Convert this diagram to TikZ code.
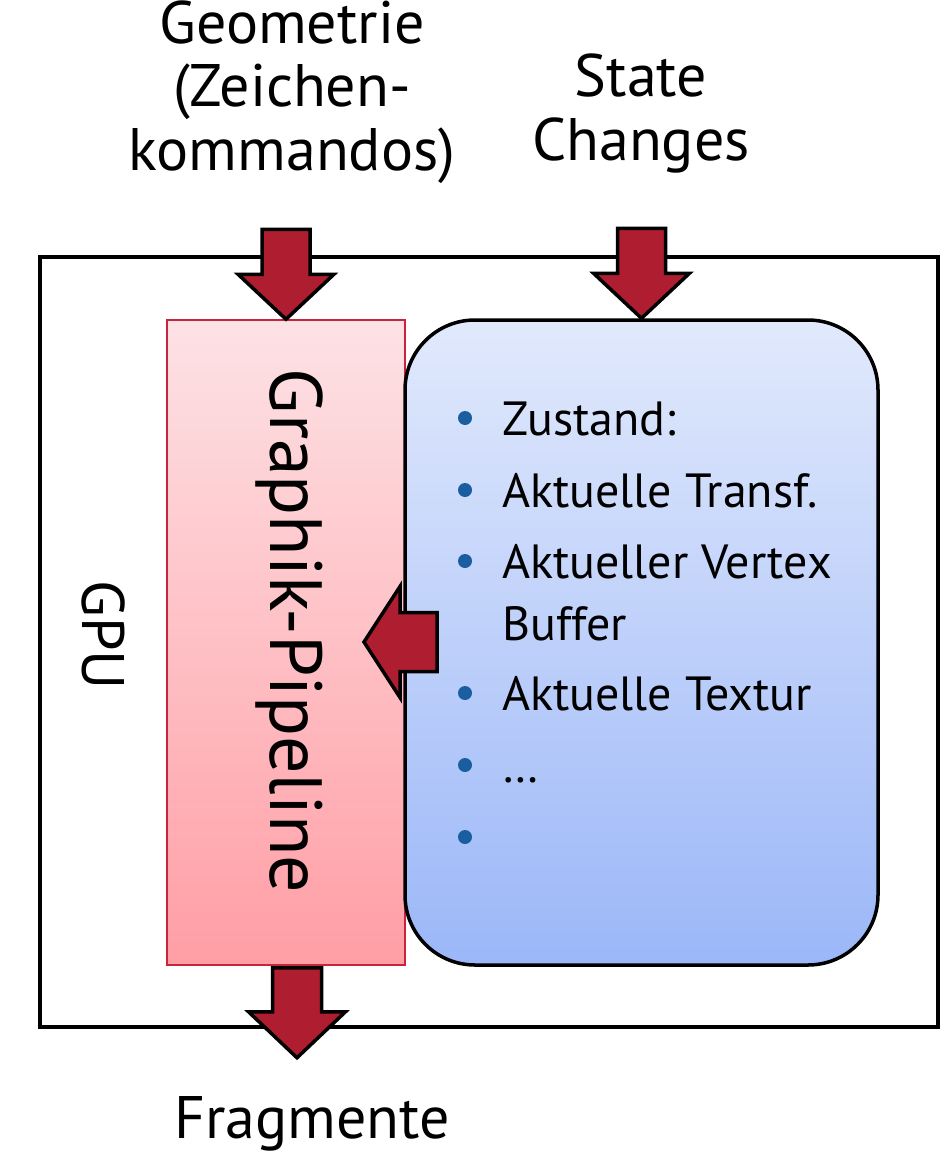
\documentclass[tikz,border=0pt]{standalone}
\usepackage{fontspec}
\setmainfont{PT Sans}
\usetikzlibrary{
  calc
}
\definecolor{arrowRed}{RGB}{174,30,48}
\definecolor{pipeLine}{RGB}{200,36,60}
\definecolor{pipeTop}{RGB}{253,226,229}
\definecolor{pipeBottom}{RGB}{255,158,165}
\definecolor{stateTop}{RGB}{225,233,252}
\definecolor{stateBottom}{RGB}{155,183,248}
\definecolor{bulletBlue}{RGB}{27,94,160}
\tikzset{
  % Shared values that several styles below use.
  globals/frame width/.initial=3.5pt,
  globals/bullet x/.initial=465,
  globals/text x/.initial=502,
%
  % For the GPU frame.
  frame/.style={
    line width=\pgfkeysvalueof{/tikz/globals/frame width}},
%
  % For the pipeline box.
  pipe box/.style={
    draw=pipeLine,
    line width=1.5pt,
    top color=pipeTop,
    bottom color=pipeBottom,
    minimum width=238pt,
    minimum height=645pt,
    inner sep=0pt},
%
  % For the rounded state box.
  state box/.style={
    draw,
    line width=\pgfkeysvalueof{/tikz/globals/frame width},
    rounded corners=70pt,
    top color=stateTop,
    bottom color=stateBottom,
    minimum width=473pt,
    minimum height=645pt,
    inner sep=0pt},
%
  % For the thick red block arrows: shaft/head/head length/length.
  block arrow/.style={
    fill=arrowRed,
    draw=black,
    line width=\pgfkeysvalueof{/tikz/globals/frame width},
    line join=miter},
  pics/blockarrow/.style args={#1/#2/#3/#4}{
    code={
      \filldraw[block arrow]
        (0,0) -- (#2,-#3) -- (#1,-#3) -- (#1,-#4)
        -- (-#1,-#4) -- (-#1,-#3) -- (-#2,-#3) -- cycle;}},
%
  % For the big outside labels (anchored at the last baseline).
  big label/.style={
    font={\fontsize{60}{63.5}\selectfont},
    align=center,
    anchor=base,
    inner sep=0pt},
%
  % For the list inside the state box.
  item/.style={
    font={\fontsize{48}{62}\selectfont},
    align=left,
    anchor=base west,
    inner sep=0pt},
  bullet/.style={
    circle,
    fill=bulletBlue,
    minimum size=14pt,
    inner sep=0pt}
}

\begin{document}
\begin{tikzpicture}[x=1pt,y=-1pt]
  \useasboundingbox (0,0) rectangle (944,1156);

  \draw[frame] (40,257) rectangle (938,1027);

  \node[pipe box] (pipe) at (286,642.5) {};
  \node[state box] (state) at (641.5,642.5) {};

  \node[font={\fontsize{74}{80}\selectfont},
        rotate=-90,
        anchor=base,
        inner sep=0pt] (pipe label) at (270,631) {Graphik-Pipeline};
  \node[big label,
        rotate=-90] (gpu) at (82,635) {GPU};

  % Labels outside the frame.
  \node[big label] (geometry) at (292,170) {Geometrie\\(Zeichen-\\kommandos)};
  \node[big label] (changes) at (641,160) {State\\Changes};
  \node[big label] (fragments) at (312,1138) {Fragmente};

  % Block arrows, tip first.
  \pic (geoArrow) at (pipe.north) {blockarrow=24/48/45/90};
  \pic (stateArrow) at (state.north) {blockarrow=24/48/45/90};
  \pic (fragArrow) at ($(pipe.south)+(11,92)$) {blockarrow=24.5/48.5/46/90};
  \pic[rotate=-90] (feedArrow) at (364,642) {blockarrow=29.5/55.5/36/73};

  % State list: bullet baseline / text baseline (last line) / text.
  \foreach \base/\last/\entry [count=\i] in
    {435/435/Zustand:,
     507/507/Aktuelle Transf.,
     578/640/{Aktueller Vertex\\Buffer},
     710/710/Aktuelle Textur,
     782/782/…,
     854/854/}
    {\node[bullet] (dot\i) at (\pgfkeysvalueof{/tikz/globals/bullet x},\base-17) {};
     \node[item] (entry\i) at (\pgfkeysvalueof{/tikz/globals/text x},\last) {\entry};}
\end{tikzpicture}
\end{document}
